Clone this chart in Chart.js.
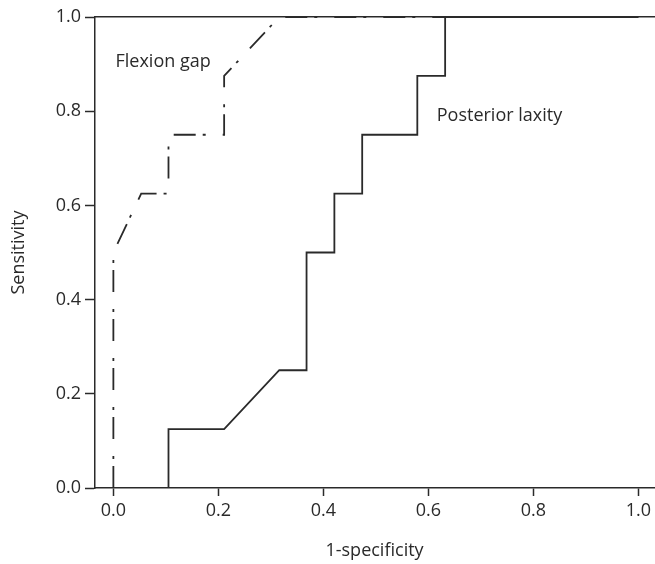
<!DOCTYPE html>
<html lang="en">
<head>
  <meta charset="UTF-8">
  <title>ROC curves</title>
  <script src="https://cdn.jsdelivr.net/npm/chart.js"></script>
  <style>
    html, body { margin: 0; padding: 0; background: #fff; }
    #wrap { width: 655px; height: 564px; }
  </style>
</head>
<body>
  <div id="wrap"><canvas id="roc" width="655" height="564"></canvas></div>

  <script>
    // ROC points (1-specificity, sensitivity)
    const laxityX = [0, 0.105, 0.105, 0.211, 0.316, 0.368, 0.368, 0.421, 0.421, 0.474, 0.474, 0.579, 0.579, 0.632, 0.632, 1.0];
    const laxityY = [0, 0, 0.125, 0.125, 0.25, 0.25, 0.5, 0.5, 0.625, 0.625, 0.75, 0.75, 0.875, 0.875, 1.0, 1.0];
    const flexionX = [0, 0, 0.053, 0.105, 0.105, 0.211, 0.211, 0.316, 1.0];
    const flexionY = [0, 0.5, 0.625, 0.625, 0.75, 0.75, 0.875, 1.0, 1.0];
    const tickValues = [0, 0.2, 0.4, 0.6, 0.8, 1.0];

    // curve labels placed in data units
    const curveLabels = [
      { text: 'Flexion gap', x: 0.004, y: 0.905 },
      { text: 'Posterior laxity', x: 0.616, y: 0.79 }
    ];

    const ink = '#2a2a2a';
    const font = { family: "'Open Sans', sans-serif", size: 18 };

    const toPoints = (xs, ys) => xs.map((x, i) => ({ x: x, y: ys[i] }));

    const labelPlugin = {
      id: 'curveLabels',
      afterDatasetsDraw(chart) {
        const { ctx, scales } = chart;
        ctx.save();
        ctx.fillStyle = ink;
        ctx.font = font.size + 'px ' + font.family;
        ctx.textAlign = 'left';
        ctx.textBaseline = 'middle';
        curveLabels.forEach(l => {
          ctx.fillText(l.text, scales.x.getPixelForValue(l.x), scales.y.getPixelForValue(l.y));
        });
        ctx.restore();
      }
    };

    new Chart(document.getElementById('roc'), {
      type: 'line',
      data: {
        datasets: [{
          label: 'Posterior laxity',
          data: toPoints(laxityX, laxityY),
          borderColor: ink,
          borderWidth: 1.8,
          pointRadius: 0,
          tension: 0
        }, {
          label: 'Flexion gap',
          data: toPoints(flexionX, flexionY),
          borderColor: ink,
          borderWidth: 1.8,
          borderDash: [22, 7, 3, 17],
          pointRadius: 0,
          tension: 0
        }]
      },
      options: {
        responsive: false,
        animation: false,
        layout: { padding: { top: 17, right: 0, bottom: 0, left: 0 } },
        plugins: {
          legend: { display: false },
          tooltip: { enabled: false }
        },
        scales: {
          x: {
            type: 'linear',
            min: -0.035,
            max: 1.03,
            afterBuildTicks: s => { s.ticks = tickValues.map(v => ({ value: v })); },
            afterFit: s => { s.height = 76; },
            grid: { drawOnChartArea: false, drawTicks: true, tickLength: 8, tickColor: ink, tickWidth: 1.5 },
            border: { display: true, color: ink, width: 1.5 },
            ticks: { color: ink, font: font, padding: 4, maxRotation: 0, callback: v => v.toFixed(1) },
            title: { display: true, text: '1-specificity', color: ink, font: font, padding: { top: 0, bottom: 2 } }
          },
          xTop: {
            type: 'linear',
            position: 'top',
            min: -0.035,
            max: 1.03,
            afterFit: s => { s.height = 0; },
            grid: { drawOnChartArea: false, drawTicks: false },
            border: { display: true, color: ink, width: 1.5 },
            ticks: { display: false }
          },
          y: {
            type: 'linear',
            min: 0,
            max: 1,
            afterBuildTicks: s => { s.ticks = tickValues.map(v => ({ value: v })); },
            afterFit: s => { s.width = 95; },
            grid: { drawOnChartArea: false, drawTicks: true, tickLength: 10, tickColor: ink, tickWidth: 1.5 },
            border: { display: true, color: ink, width: 1.5 },
            ticks: { color: ink, font: font, padding: 4, callback: v => v.toFixed(1) },
            title: { display: true, text: 'Sensitivity', color: ink, font: font, padding: { top: 8, bottom: 0 } }
          }
        }
      },
      plugins: [labelPlugin]
    });
  </script>
</body>
</html>
